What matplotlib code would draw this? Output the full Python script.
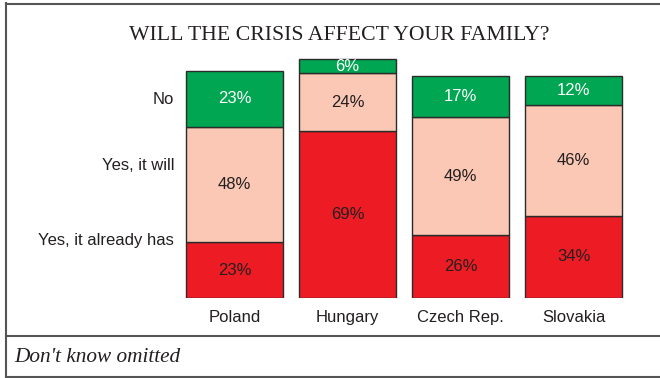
"""Stacked bars: Will the crisis affect your family?"""

import matplotlib

matplotlib.use("Agg")
import matplotlib.pyplot as plt
from matplotlib.lines import Line2D

countries = ["Poland", "Hungary", "Czech Rep.", "Slovakia"]
already_has = [23, 69, 26, 34]
yes_will = [48, 24, 49, 46]
no = [23, 6, 17, 12]

series_names = ["Yes, it already has", "Yes, it will", "No"]
series_values = [already_has, yes_will, no]

C = {
    "red": "#ED1C24",
    "peach": "#FAC8B4",
    "green": "#00A651",
    "edge": "#2B2B2B",
    "text": "#231F20",
    "frame": "#555555",
}
fills = [C["red"], C["peach"], C["green"]]
label_colors = [C["text"], C["text"], "white"]

W, H = 660, 378
fig = plt.figure(figsize=(W / 100, H / 100), dpi=100)

# axes placed in pixel terms: 0% at y=298 px, 100% = 241.5 px, bars 113 px apart
left_px, bottom_px, width_px, height_px = 178, 298, 452, 241.5
ax = fig.add_axes([left_px / W, 1 - bottom_px / H, width_px / W, height_px / H])
ax.set_xlim(-0.5, 3.5)
ax.set_ylim(0, 100)

x = list(range(len(countries)))
bottoms = [0] * len(countries)
for vals, fc, tc in zip(series_values, fills, label_colors):
    bars = ax.bar(x, vals, width=0.86, bottom=bottoms, color=fc,
                  edgecolor=C["edge"], linewidth=1.0, zorder=2)
    for b, v, b0 in zip(bars, vals, bottoms):
        ax.text(b.get_x() + b.get_width() / 2, b0 + v / 2, f"{v}%",
                ha="center", va="center", fontsize=12, color=tc,
                family="Liberation Sans", zorder=3)
    bottoms = [a + v for a, v in zip(bottoms, vals)]

for s in ax.spines.values():
    s.set_visible(False)
ax.set_yticks([])
ax.set_xticks(x)
ax.set_xticklabels(countries, fontsize=12, family="Liberation Sans", color=C["text"])
ax.tick_params(axis="x", length=0, pad=8.5)

# category labels on the left
for name, yy in zip(series_names, [24, 55, 82]):
    ax.text(-0.535, yy, name, ha="right", va="center", fontsize=12,
            family="Liberation Sans", color=C["text"])

fig.text(339 / W, 1 - 36 / H, "WILL THE CRISIS AFFECT YOUR FAMILY?",
         ha="center", va="center", fontsize=15.7, family="Liberation Serif",
         color=C["text"])
fig.text(14 / W, 1 - 357 / H, "Don't know omitted", ha="left", va="center",
         fontsize=15.3, family="Liberation Serif", style="italic", color=C["text"])

# frame and footer separator
def px_line(xs, ys, lw=1.5):
    fig.add_artist(Line2D([v / W for v in xs], [1 - v / H for v in ys],
                          color=C["frame"], lw=lw, transform=fig.transFigure))

px_line([6, 6], [3, 377])
px_line([6, 660], [3.5, 3.5])
px_line([6, 660], [377, 377])
px_line([6, 660], [336, 336])

fig.savefig("out.png", dpi=100, facecolor="white")
